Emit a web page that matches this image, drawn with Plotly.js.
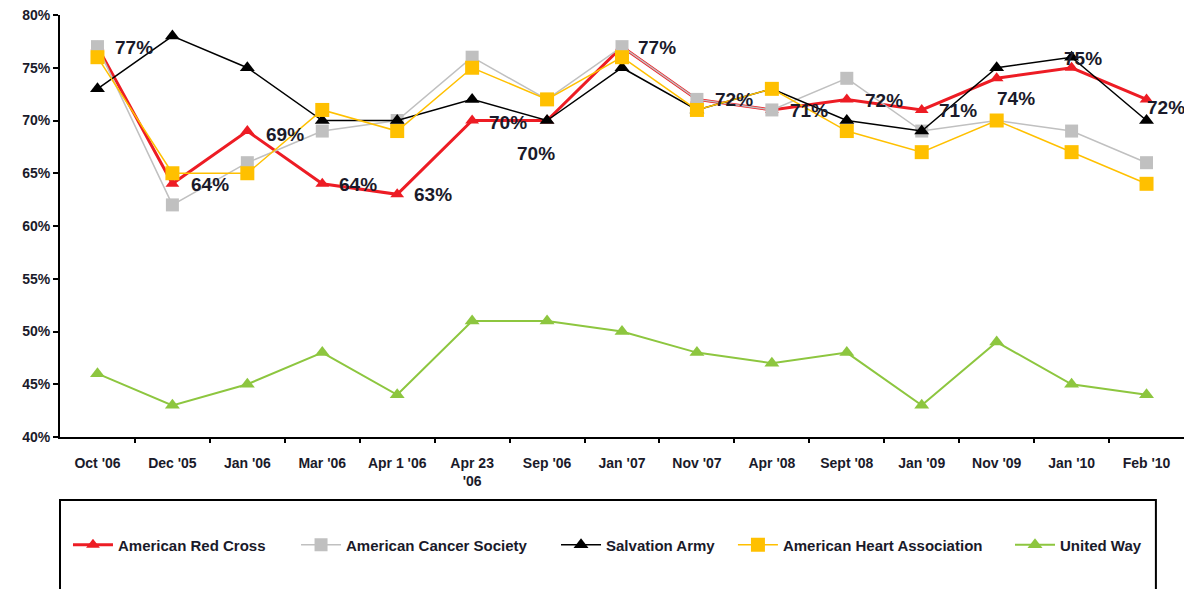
<!DOCTYPE html>
<html>
<head>
<meta charset="utf-8">
<script src="https://cdn.plot.ly/plotly-3.0.1.min.js"></script>
<style>html,body{margin:0;padding:0;background:#fff;}#chart{width:1184px;height:589px;}</style>
</head>
<body>
<div id="chart"></div>
<script>
// ---- data ----
var categories = ["Oct '06", "Dec '05", "Jan '06", "Mar '06", "Apr 1 '06", "Apr 23<br>'06", "Sep '06", "Jan '07", "Nov '07", "Apr '08", "Sept '08", "Jan '09", "Nov '09", "Jan '10", "Feb '10"];
var redCross      = [77, 64, 69, 64, 63, 70, 70, 77, 72, 71, 72, 71, 74, 75, 72];
var cancerSociety = [77, 62, 66, 69, 70, 76, 72, 77, 72, 71, 74, 69, 70, 69, 66];
var salvationArmy = [73, 78, 75, 70, 70, 72, 70, 75, 71, 73, 70, 69, 75, 76, 70];
var heartAssoc    = [76, 65, 65, 71, 69, 75, 72, 76, 71, 73, 69, 67, 70, 67, 64];
var unitedWay     = [46, 43, 45, 48, 44, 51, 51, 50, 48, 47, 48, 43, 49, 45, 44];
var seriesNames = ["American Red Cross", "American Cancer Society", "Salvation Army", "American Heart Association", "United Way"];
var yTicks = [40, 45, 50, 55, 60, 65, 70, 75, 80];
var yTickText = yTicks.map(function(v){ return v + '%'; });

// label placement (pixel shifts relative to each Red Cross point)
var labelShiftX = [16, 17, 17, 15, 15, 15, -32, 14, 16, 16, 16, 15, -2, -10, -2];
var labelShiftY = [-1, -1, -3, -1, 0, -2, -33, -1, 0, -1, -1, -1, -20, 9, -8];
// legend entry horizontal positions (paper fraction)
var legendX = [0.0071, 0.210, 0.4413, 0.5987, 0.8452];

var idx = categories.map(function(_, i){ return i; });
var legendIds = ['legend', 'legend2', 'legend3', 'legend4', 'legend5'];

function series(k, vals, color, width, symbol, size) {
  return {
    type: 'scatter', mode: 'lines+markers', name: seriesNames[k],
    x: idx, y: vals, legend: legendIds[k],
    line: {color: color, width: width},
    marker: {symbol: symbol, size: size, color: color}
  };
}

var traces = [
  series(0, redCross, '#ed1c24', 3, 'triangle-up', 12),
  series(1, cancerSociety, '#c0c0c0', 1.5, 'square', 13),
  series(2, salvationArmy, '#000000', 1.5, 'triangle-up', 13),
  series(3, heartAssoc, '#ffc000', 1.5, 'square', 14),
  series(4, unitedWay, '#8dc63f', 2, 'triangle-up', 13)
];

var annotations = redCross.map(function(v, i){
  return {
    x: i, y: v, xref: 'x', yref: 'y',
    text: v + '%', showarrow: false,
    xanchor: 'left', yanchor: 'middle',
    xshift: labelShiftX[i], yshift: labelShiftY[i],
    font: {family: 'Liberation Sans, Arial, sans-serif', size: 19, color: '#1a1a2a', weight: 'bold'}
  };
});

var layout = {
  width: 1184, height: 589,
  margin: {l: 60, r: 0, t: 15, b: 152},
  paper_bgcolor: '#ffffff', plot_bgcolor: '#ffffff',
  showlegend: true,
  font: {family: 'Liberation Sans, Arial, sans-serif', color: '#1a1a2a'},
  xaxis: {
    type: 'linear', range: [-0.5, 14.5],
    tickmode: 'array', tickvals: idx, ticktext: categories,
    showgrid: false, zeroline: false,
    showline: true, linecolor: '#000', linewidth: 2,
    ticks: '', ticklabelstandoff: 12,
    tickfont: {size: 14, weight: 'bold', color: '#1a1a2a'},
    fixedrange: true
  },
  xaxis2: {
    overlaying: 'x', matches: 'x', range: [-0.5, 14.5],
    tickmode: 'array', tickvals: idx.map(function(i){ return i + 0.5; }).slice(0, 14),
    ticks: 'outside', ticklen: 5, tickwidth: 2, tickcolor: '#000',
    showticklabels: false, showgrid: false, zeroline: false, showline: false,
    anchor: 'y', side: 'bottom'
  },
  yaxis: {
    range: [40, 80], tickmode: 'array', tickvals: yTicks, ticktext: yTickText,
    showgrid: false, zeroline: false,
    showline: true, linecolor: '#000', linewidth: 2,
    ticks: 'outside', ticklen: 5, tickwidth: 2, tickcolor: '#000',
    tickfont: {size: 14, weight: 'bold', color: '#1a1a2a'},
    fixedrange: true
  },
  shapes: [{
    type: 'rect', xref: 'paper', yref: 'paper',
    x0: 0, x1: 0.975, y0: -0.149, y1: -0.40,
    line: {color: '#000', width: 2}, fillcolor: 'rgba(0,0,0,0)'
  }],
  annotations: annotations
};

legendIds.forEach(function(id, k){
  layout[id] = {
    orientation: 'h', x: legendX[k], y: -0.256, xanchor: 'left', yanchor: 'middle',
    font: {size: 15, weight: 'bold', color: '#1a1a2a'},
    bgcolor: 'rgba(0,0,0,0)', borderwidth: 0, itemwidth: 40
  };
});

// invisible trace so the category-boundary ticks on xaxis2 are drawn
traces.push({type: 'scatter', x: [0], y: [40], xaxis: 'x2', yaxis: 'y', mode: 'markers', marker: {opacity: 0}, showlegend: false, hoverinfo: 'skip'});

Plotly.newPlot('chart', traces, layout, {displayModeBar: false, staticPlot: true});
</script>
</body>
</html>
